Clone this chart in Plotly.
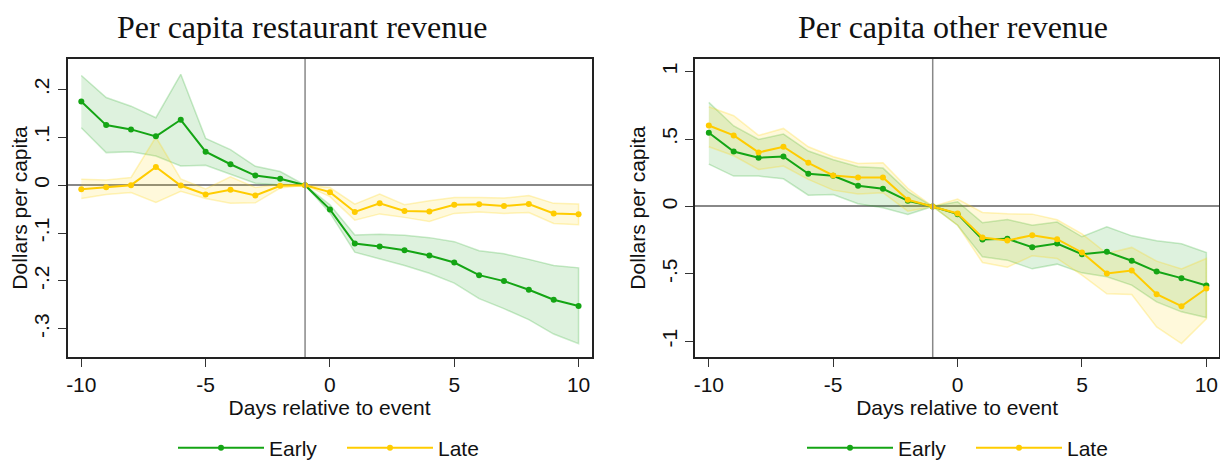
import plotly.graph_objects as go

days = list(range(-10, 11))
EVENT_DAY = -1

# Left panel: per capita restaurant revenue
rest_early = [0.175, 0.1255, 0.1165, 0.102, 0.1366, 0.070, 0.0437, 0.0201, 0.0132, 0.0,
              -0.0506, -0.122, -0.128, -0.136, -0.147, -0.1616, -0.188, -0.2004, -0.2184, -0.2393, -0.2524]
rest_early_hi = [0.229, 0.183, 0.165, 0.141, 0.2316, 0.0978, 0.0742, 0.0395, 0.0284, 0.0,
                 -0.041, -0.104, -0.1026, -0.1047, -0.1096, -0.118, -0.137, -0.1435, -0.155, -0.168, -0.1727]
rest_early_lo = [0.120, 0.068, 0.070, 0.061, 0.040, 0.0416, 0.0229, 0.004, 0.0005, 0.0,
                 -0.058, -0.140, -0.154, -0.168, -0.184, -0.2046, -0.237, -0.258, -0.281, -0.311, -0.331]
rest_late = [-0.0083, -0.0042, 0.0, 0.038, -0.0007, -0.0194, -0.0097, -0.0215, -0.0014, 0.0,
             -0.0146, -0.056, -0.038, -0.054, -0.055, -0.041, -0.040, -0.0437, -0.0395, -0.059, -0.061]
rest_late_hi = [0.0125, 0.011, 0.016, 0.1005, 0.013, -0.008, 0.0173, -0.005, 0.002, 0.0,
                -0.005, -0.0395, -0.0187, -0.041, -0.0326, -0.0257, -0.026, -0.027, -0.0215, -0.038, -0.0395]
rest_late_lo = [-0.0277, -0.0194, -0.0153, -0.036, -0.013, -0.0277, -0.038, -0.0368, -0.006, 0.0,
                -0.024, -0.073, -0.060, -0.0673, -0.076, -0.059, -0.056, -0.059, -0.057, -0.080, -0.0825]

# Right panel: per capita other revenue
oth_early = [0.547, 0.408, 0.361, 0.371, 0.2426, 0.2277, 0.1535, 0.131, 0.042, 0.0,
             -0.057, -0.245, -0.240, -0.302, -0.275, -0.354, -0.337, -0.403, -0.483, -0.532, -0.587]
oth_early_hi = [0.772, 0.597, 0.4975, 0.537, 0.411, 0.3465, 0.2946, 0.2846, 0.11, 0.0,
                0.035, -0.121, -0.0965, -0.139, -0.116, -0.225, -0.151, -0.218, -0.255, -0.277, -0.342]
oth_early_lo = [0.314, 0.225, 0.225, 0.205, 0.084, 0.089, 0.02, -0.01, -0.059, 0.0,
                -0.139, -0.374, -0.3985, -0.463, -0.428, -0.4926, -0.522, -0.584, -0.708, -0.782, -0.824]
oth_late = [0.601, 0.527, 0.401, 0.443, 0.324, 0.230, 0.215, 0.215, 0.0495, 0.0,
            -0.052, -0.230, -0.2525, -0.213, -0.2426, -0.3416, -0.4975, -0.475, -0.651, -0.740, -0.609]
oth_late_hi = [0.74, 0.673, 0.527, 0.579, 0.443, 0.369, 0.319, 0.324, 0.134, 0.0,
               0.0545, -0.0446, -0.0545, -0.057, -0.099, -0.203, -0.349, -0.304, -0.406, -0.463, -0.386]
oth_late_lo = [0.443, 0.376, 0.2748, 0.2995, 0.2005, 0.121, 0.0916, 0.1015, -0.035, 0.0,
               -0.139, -0.416, -0.4505, -0.366, -0.386, -0.51, -0.6485, -0.653, -0.894, -1.017, -0.834]

x_ticks = [-10, -5, 0, 5, 10]
x_ticktext = ["-10", "-5", "0", "5", "10"]
left_yticks = [0.2, 0.1, 0.0, -0.1, -0.2, -0.3]
left_yticktext = [".2", ".1", "0", "-.1", "-.2", "-.3"]
right_yticks = [1, 0.5, 0, -0.5, -1]
right_yticktext = ["1", ".5", "0", "-.5", "-1"]

titles = ["Per capita restaurant revenue", "Per capita other revenue"]
series_names = ["Early", "Late"]

GREEN = "rgb(20,165,20)"
GREEN_FILL = "rgba(20,165,20,0.14)"
GREEN_EDGE = "rgba(20,165,20,0.22)"
YELLOW = "rgb(255,204,0)"
YELLOW_FILL = "rgba(255,210,0,0.14)"
YELLOW_EDGE = "rgba(255,210,0,0.25)"

fig = go.Figure()


def add_panel(xa, ya, legend, early, ehi, elo, late, lhi, llo):
    for hi, lo, fill, edge in [(ehi, elo, GREEN_FILL, GREEN_EDGE), (lhi, llo, YELLOW_FILL, YELLOW_EDGE)]:
        fig.add_trace(go.Scatter(
            x=days + days[::-1], y=hi + lo[::-1], fill="toself", fillcolor=fill,
            line=dict(color=edge, width=1.5), mode="lines", showlegend=False,
            hoverinfo="skip", xaxis=xa, yaxis=ya))
    for vals, name, col in [(early, series_names[0], GREEN), (late, series_names[1], YELLOW)]:
        fig.add_trace(go.Scatter(
            x=days, y=vals, name=name, mode="lines+markers",
            line=dict(color=col, width=2), marker=dict(color=col, size=6),
            xaxis=xa, yaxis=ya, legend=legend))


add_panel("x", "y", "legend", rest_early, rest_early_hi, rest_early_lo, rest_late, rest_late_hi, rest_late_lo)
add_panel("x2", "y2", "legend2", oth_early, oth_early_hi, oth_early_lo, oth_late, oth_late_hi, oth_late_lo)

# page body has an 8px default margin; lay out in window pixels minus that offset
OFF = 8
W, H = 1228 - OFF, 463 - OFF


def px(x):
    return (x - OFF) / W


def py(y):
    return 1 - (y - OFF) / H


axis_common = dict(showline=True, mirror=True, linecolor="#222", linewidth=1.5,
                   ticks="outside", ticklen=8, tickwidth=1.3, tickcolor="#333",
                   showgrid=False, tickfont=dict(size=21, color="#111"),
                   title_font=dict(size=21, color="#111"))

legend_common = dict(orientation="h", xanchor="left", y=py(448), yanchor="middle",
                     font=dict(size=21), itemwidth=86, entrywidth=68, entrywidthmode="pixels",
                     bgcolor="rgba(0,0,0,0)")

fig.update_layout(
    width=W, height=H, paper_bgcolor="white", plot_bgcolor="white",
    margin=dict(l=0, r=0, t=0, b=0, autoexpand=False),
    font=dict(family="Liberation Sans, Arial, sans-serif", color="#111"),
    xaxis=dict(domain=[px(67.5), px(591.5)], range=[-10.555, 10.52], tickvals=x_ticks,
               ticktext=x_ticktext, zeroline=False, anchor="y",
               title=dict(text="Days relative to event", standoff=2), **axis_common),
    yaxis=dict(domain=[py(357), py(59)], range=[-0.359, 0.2636], tickvals=left_yticks,
               ticktext=left_yticktext, tickangle=-90, zeroline=True, zerolinecolor="#888",
               zerolinewidth=1.5, anchor="x", title=dict(text="Dollars per capita", standoff=6),
               **axis_common),
    xaxis2=dict(domain=[px(695), px(1219.3)], range=[-10.555, 10.52], tickvals=x_ticks,
                ticktext=x_ticktext, zeroline=False, anchor="y2",
                title=dict(text="Days relative to event", standoff=2), **axis_common),
    yaxis2=dict(domain=[py(357), py(59)], range=[-1.117, 1.094], tickvals=right_yticks,
                ticktext=right_yticktext, tickangle=-90, zeroline=True, zerolinecolor="#888",
                zerolinewidth=1.5, anchor="x2", title=dict(text="Dollars per capita", standoff=6),
                **axis_common),
    legend=dict(x=px(173), **legend_common),
    legend2=dict(x=px(802), **legend_common),
    shapes=[
        dict(type="line", xref="x", yref="y domain", x0=EVENT_DAY, x1=EVENT_DAY, y0=0, y1=1,
             line=dict(color="#888", width=1.5), layer="above"),
        dict(type="line", xref="x2", yref="y2 domain", x0=EVENT_DAY, x1=EVENT_DAY, y0=0, y1=1,
             line=dict(color="#888", width=1.5), layer="above"),
    ],
    annotations=[
        dict(text=titles[0], x=px(302), y=py(27), xref="paper", yref="paper",
             showarrow=False, xanchor="center", yanchor="middle",
             font=dict(family="Liberation Serif, Times New Roman, serif", size=32, color="#111")),
        dict(text=titles[1], x=px(953), y=py(27), xref="paper", yref="paper",
             showarrow=False, xanchor="center", yanchor="middle",
             font=dict(family="Liberation Serif, Times New Roman, serif", size=32, color="#111")),
    ],
)

fig.write_html("out.html")
